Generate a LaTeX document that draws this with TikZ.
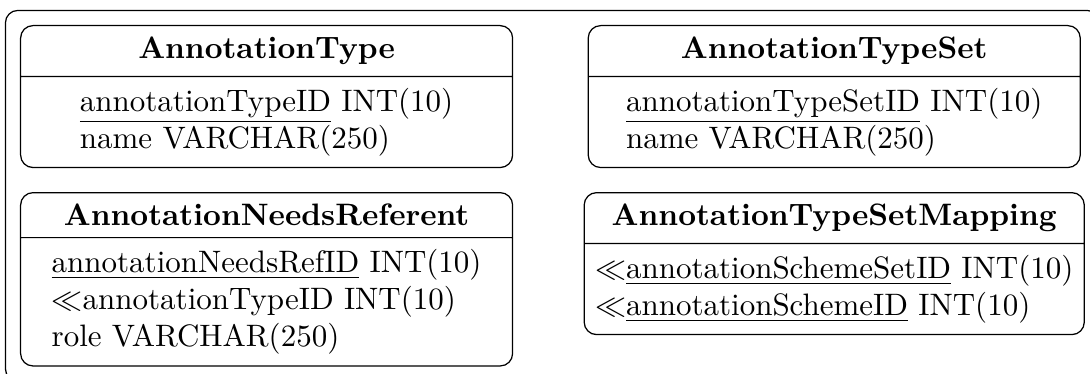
\documentclass[tikz,border=0pt]{standalone}
\usetikzlibrary{shapes.multipart,positioning,fit}

\begin{document}
\begin{tikzpicture}[
                    entity/.style={rectangle split, rectangle split parts=2, draw, rounded corners=4pt, minimum width=158.7pt, inner sep=3.5pt, align=left},
                    frame/.style={draw, rounded corners=4pt, inner sep=4.7pt},
                    node distance=7.7pt and 24pt,
                ]
                \useasboundingbox (-6.45pt,8.06pt) rectangle (345.15pt,-112.54pt);
                \node[entity, anchor=north west] (type) at (0,0) {\textbf{AnnotationType}\nodepart{second}\underline{annotationTypeID} INT(10)\\ name VARCHAR(250)};
                \node[entity] (typeset) [right=of type] {\textbf{AnnotationTypeSet}\nodepart{second}\underline{annotationTypeSetID} INT(10)\\ name VARCHAR(250)};
                \node[entity, anchor=north] (needsref) [below=of type] {\textbf{AnnotationNeedsReferent}\nodepart{second}\underline{annotationNeedsRefID} INT(10)\\ $\ll$annotationTypeID INT(10)\\ role VARCHAR(250)};
                \node[entity, anchor=north] (mapping) [below=of typeset] {\textbf{AnnotationTypeSetMapping}\nodepart{second}$\ll$\underline{annotationSchemeSetID} INT(10)\\ $\ll$\underline{annotationSchemeID} INT(10)};
                \node[frame, fit=(type) (typeset) (needsref) (mapping)] (all) {};
            \end{tikzpicture}
\end{document}
